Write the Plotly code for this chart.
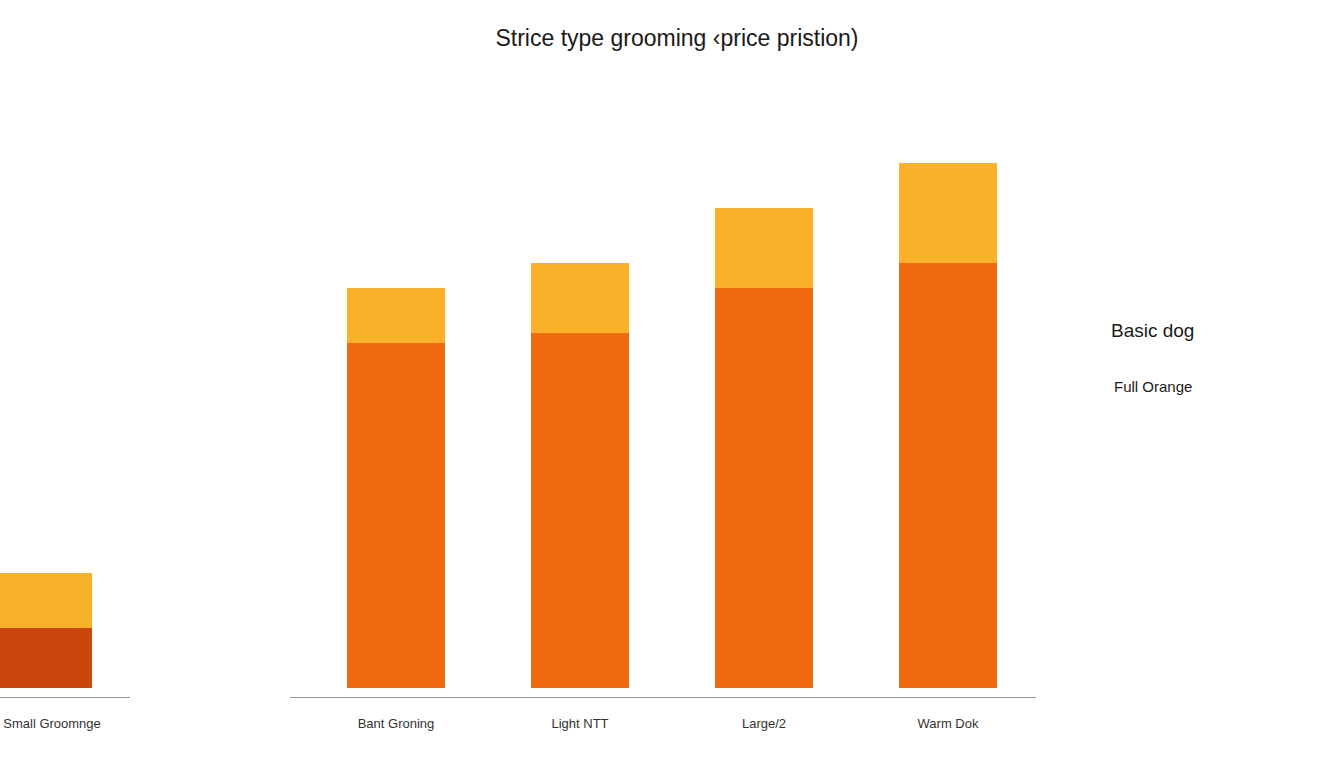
import plotly.graph_objects as go

# Data (arbitrary price units)
first_category = ["Small Groomnge"]
first_base = [12]
first_top = [11]

categories = ["Bant Groning", "Light NTT", "Large/2", "Warm Dok"]
base_values = [69, 71, 80, 85]
top_values = [11, 14, 16, 20]

title_text = "Strice type grooming \u2039price pristion)"
legend_names = ["Basic dog", "Full Orange"]

base_color_first = "#C9460C"
base_color = "#EF6C0E"
top_color = "#FAB12A"

fig = go.Figure()

# First (isolated) panel: bar sits at the left edge, label slightly right of it
first_style = dict(marker_line_width=0, width=0.5, offset=-0.283, xaxis="x", yaxis="y",
                   showlegend=False)
fig.add_trace(go.Bar(x=first_category, y=first_base, marker_color=base_color_first,
                     name=legend_names[1], **first_style))
fig.add_trace(go.Bar(x=first_category, y=first_top, marker_color=top_color,
                     name=legend_names[0], **first_style))

# Main panel
fig.add_trace(go.Bar(x=categories, y=base_values, marker_color=base_color,
                     marker_line_width=0, width=0.53, xaxis="x2", yaxis="y2",
                     showlegend=False, name=legend_names[1]))
fig.add_trace(go.Bar(x=categories, y=top_values, marker_color=top_color,
                     marker_line_width=0, width=0.53, xaxis="x2", yaxis="y2",
                     showlegend=False, name=legend_names[0]))

W, H = 1344, 768
MT, MB = 88, 71
yrange = [-1.8, 120]
font_main = "Liberation Sans, Arial, sans-serif"
axis_line = dict(showline=True, linecolor="#9a9a9a", linewidth=1, ticks="",
                 showgrid=False, zeroline=False, ticklabelstandoff=14, automargin=False,
                 tickfont=dict(family=font_main, size=13, color="#333333"))

fig.update_layout(
    width=W, height=H,
    barmode="stack",
    paper_bgcolor="white", plot_bgcolor="white",
    margin=dict(l=0, r=0, t=MT, b=MB, autoexpand=False),
    title=dict(text=title_text, x=0.5 + 5 / W, xanchor="center", y=1 - 38 / H, yanchor="middle",
               font=dict(family=font_main, size=23, color="#1a1a1a")),
    xaxis=dict(domain=[0, 130 / W], range=[-0.283, 0.424], type="category", **axis_line),
    xaxis2=dict(domain=[290 / W, 1036 / W], range=[-0.576, 3.478], type="category", **axis_line),
    yaxis=dict(domain=[0, 1], range=yrange, visible=False),
    yaxis2=dict(domain=[0, 1], range=yrange, visible=False, anchor="x2"),
    showlegend=False,
    annotations=[
        dict(text=legend_names[0], xref="paper", yref="paper", x=1152 / W,
             y=(H - 330 - MB) / (H - MT - MB), showarrow=False, xanchor="center", yanchor="middle",
             font=dict(family=font_main, size=19, color="#1a1a1a")),
        dict(text=legend_names[1], xref="paper", yref="paper", x=1153 / W,
             y=(H - 386 - MB) / (H - MT - MB), showarrow=False, xanchor="center", yanchor="middle",
             font=dict(family=font_main, size=15, color="#1a1a1a")),
    ],
)

fig.write_html("out.html", config={"displayModeBar": False},
               post_script="document.body.style.margin='0px';document.body.style.overflow='hidden';")
